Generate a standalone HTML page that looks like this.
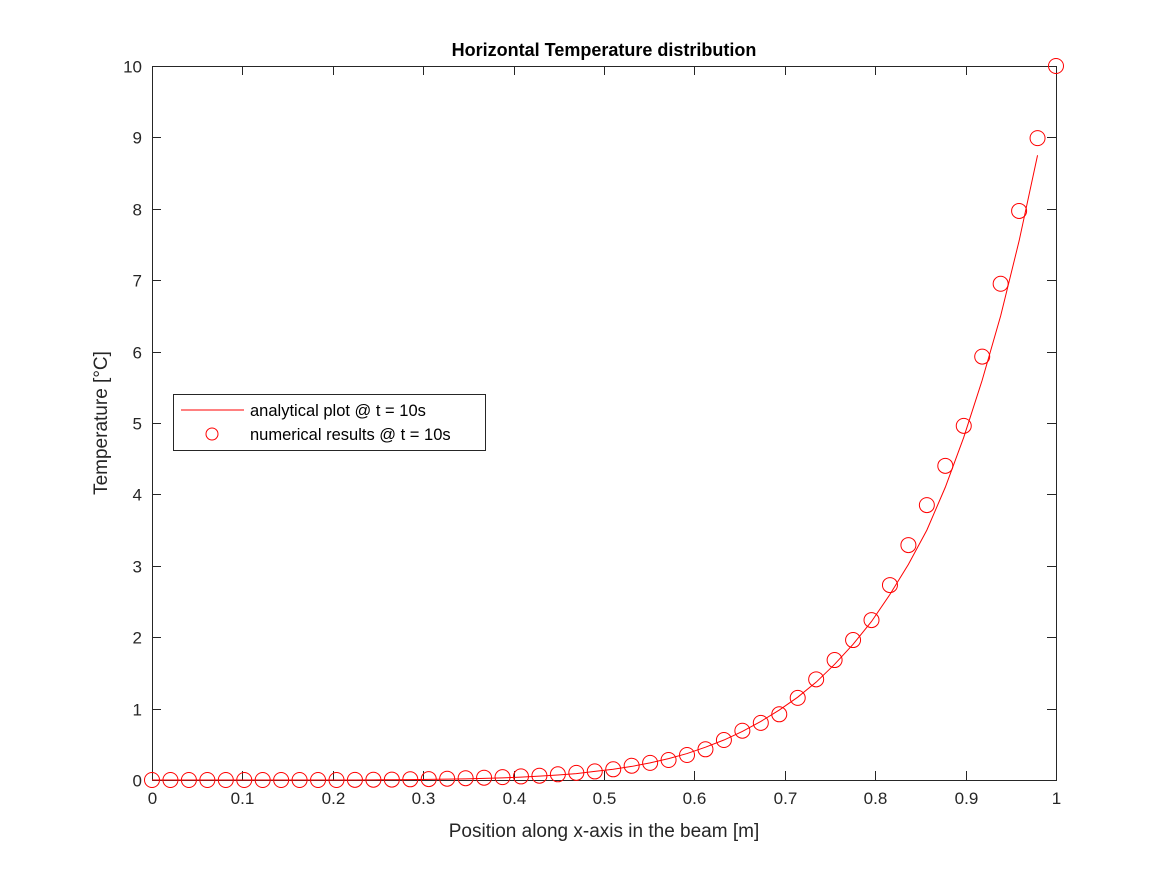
<!DOCTYPE html>
<html><head><meta charset="utf-8"><style>
body{margin:0;background:#fff;}
svg{display:block;font-family:"Liberation Sans",sans-serif;}
</style></head><body>
<svg id="chart" width="1167" height="875">
<rect x="0" y="0" width="1167" height="875" fill="#fff"/>
<text x="604" y="56" text-anchor="middle" font-size="18" font-weight="bold" fill="#000">Horizontal Temperature distribution</text>
<g id="axes"></g>
<g id="series"></g>
<text x="604" y="837" text-anchor="middle" font-size="19" fill="#262626">Position along x-axis in the beam [m]</text>
<text transform="translate(107,423) rotate(-90)" text-anchor="middle" font-size="19" fill="#262626">Temperature [°C]</text>
<g>
<rect x="173.5" y="394.5" width="312" height="56" fill="#fff" stroke="#262626" stroke-width="1"/>
<line x1="181" y1="410" x2="244" y2="410" stroke="#f00" stroke-width="1"/>
<text x="250" y="416" font-size="16.5" fill="#000">analytical plot @ t = 10s</text>
<circle cx="212" cy="434" r="6" fill="none" stroke="#f00" stroke-width="1"/>
<text x="250" y="440" font-size="16.5" fill="#000">numerical results @ t = 10s</text>
</g>
</svg>
<script>
const xTicks=[0,0.1,0.2,0.3,0.4,0.5,0.6,0.7,0.8,0.9,1];
const xTickLabels=["0","0.1","0.2","0.3","0.4","0.5","0.6","0.7","0.8","0.9","1"];
const yTicks=[0,1,2,3,4,5,6,7,8,9,10];
const yTickLabels=["0","1","2","3","4","5","6","7","8","9","10"];
const numericalValues=[0,0,0,0,0,0,0,0,0,0,0,0.002,0.004,0.006,0.01,0.013,0.018,0.025,0.032,0.04,0.05,0.06,0.08,0.10,0.12,0.15,0.20,0.24,0.28,0.35,0.43,0.56,0.69,0.80,0.92,1.15,1.41,1.68,1.96,2.24,2.73,3.29,3.85,4.40,4.96,5.93,6.95,7.97,8.99,10];
const analyticalValues=[0,0,0,0,0,0,0,0,0,0,0,0,0.002,0.004,0.006,0.009,0.012,0.016,0.022,0.03,0.04,0.055,0.07,0.09,0.12,0.15,0.19,0.24,0.30,0.37,0.46,0.56,0.68,0.82,0.98,1.16,1.37,1.62,1.90,2.22,2.60,3.02,3.50,4.10,4.80,5.60,6.50,7.55,8.75];
const N=50;
const X0=152,X1=1056,Y0=780,Y1=66;
const xs=v=>X0+(X1-X0)*v;
const ys=v=>Y0-(Y0-Y1)*v/10;
const NS="http://www.w3.org/2000/svg";
function mk(tag,attrs,parent){const e=document.createElementNS(NS,tag);for(const k in attrs)e.setAttribute(k,attrs[k]);parent.appendChild(e);return e;}
const axes=document.getElementById('axes');
const frame=mk('rect',{x:X0+0.5,y:Y1+0.5,width:X1-X0,height:Y0-Y1,fill:'none',stroke:'#262626','stroke-width':1},axes);


xTicks.forEach((t,i)=>{
  const x=Math.round(xs(t))+0.5;
  const a=mk('line',{x1:x,y1:Y0,x2:x,y2:Y0-9,stroke:'#262626'},axes);
  
  
  const b=mk('line',{x1:x,y1:Y1,x2:x,y2:Y1+9,stroke:'#262626'},axes);
  
  
  const l=mk('text',{x:x,y:Y0+24,'text-anchor':'middle','font-size':17,fill:'#262626'},axes);
  l.textContent=xTickLabels[i];
  
  
});
yTicks.forEach((t,i)=>{
  const y=Math.round(ys(t))+0.5;
  const a=mk('line',{x1:X0,y1:y,x2:X0+9,y2:y,stroke:'#262626'},axes);
  
  
  const b=mk('line',{x1:X1,y1:y,x2:X1-9,y2:y,stroke:'#262626'},axes);
  
  
  const l=mk('text',{x:X0-10,y:y+6,'text-anchor':'end','font-size':17,fill:'#262626'},axes);
  l.textContent=yTickLabels[i];
  
  
});
const series=document.getElementById('series');
const pts=analyticalValues.map((v,i)=>xs(i/(N-1)).toFixed(2)+','+ys(v).toFixed(2)).join(' ');
const line=mk('polyline',{points:pts,fill:'none',stroke:'#f00','stroke-width':1},series);


numericalValues.forEach((v,i)=>{
  const c=mk('circle',{cx:xs(i/(N-1)),cy:ys(v),r:7.5,fill:'none',stroke:'#f00','stroke-width':1},series);
  
  
});
</script>
</body></html>
